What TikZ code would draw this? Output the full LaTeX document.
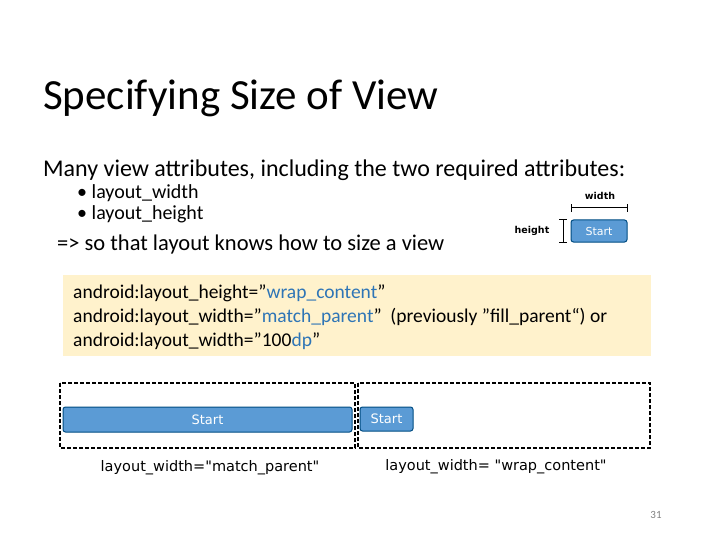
\documentclass[tikz,border=0pt]{standalone}
\usepackage{fontspec}
\setmainfont{Carlito}[Ligatures={ResetAll}]
\newfontfamily\dvs{DejaVu Sans}[Ligatures={ResetAll}]
\newcommand{\q}{"}
\begin{document}
\begin{tikzpicture}[x=1pt,y=-1pt,
  btn/.style={draw=blue!30!black!70!cyan,line width=1pt,fill=btnblue,rounded corners=2.5pt,text=white,inner sep=0pt},
  dbox/.style={draw=black,dash pattern=on 4pt off 2pt,line width=1.5pt},
  txt/.style={anchor=base west,inner sep=0pt}]
\definecolor{btnblue}{HTML}{5B9BD5}
\definecolor{codeblue}{HTML}{2E75B6}
\definecolor{note}{HTML}{FFF2CC}
\useasboundingbox (0,0) rectangle (720,540);
\node[txt,font=\fontsize{43}{46}\selectfont] (title) at (43,110) {Specifying Size of View};
\node[txt,font=\fontsize{24}{26}\selectfont] (l1) at (43,177) {Many view attributes, including the two required attributes:};
\node[txt,font=\fontsize{20}{20}\selectfont] (b1) at (77,199) {• layout\_width};
\node[txt,font=\fontsize{20}{20}\selectfont] (b2) at (77,220) {• layout\_height};
\node[txt,font=\fontsize{22.5}{24}\selectfont] (l2) at (57,250) {=> so that layout knows how to size a view};
% small button
\node[btn,minimum width=56pt,minimum height=22pt,font=\dvs\fontsize{11}{12}\selectfont] (sb) at (599,231) {Start};
\node[font=\dvs\bfseries\fontsize{9.5}{12}\selectfont,inner sep=0pt] (wl) at (600,196) {width};
\node[font=\dvs\bfseries\fontsize{9.5}{12}\selectfont,inner sep=0pt] (hl) at (532,231) {height};
\coordinate (w1) at (571,208); \coordinate (w2) at (627,208);
\draw[line width=1pt] (w1) -- (w2);
\draw[line width=1pt] ([yshift=-4]w1) -- ([yshift=4]w1);
\draw[line width=1pt] ([yshift=-4]w2) -- ([yshift=4]w2);
\coordinate (h1) at (563,220); \coordinate (h2) at (563,242);
\draw[line width=1pt] (h1) -- (h2);
\draw[line width=1pt] ([xshift=-4]h1) -- ([xshift=4]h1);
\draw[line width=1pt] ([xshift=-4]h2) -- ([xshift=4]h2);
% note box
\fill[note] (63,275) rectangle (651,356);
\node[txt,font=\fontsize{19.5}{20}\selectfont] (c1) at (73,298) {android:layout\_height=\q\textcolor{codeblue}{wrap\_content}\q};
\node[txt,font=\fontsize{19.5}{20}\selectfont] (c2) at (73,322) {android:layout\_width=\q\textcolor{codeblue}{match\_parent}\q\ \ (previously \q fill\_parent“) or};
\node[txt,font=\fontsize{19.5}{20}\selectfont] (c3) at (73,346) {android:layout\_width=\q 100\textcolor{codeblue}{dp}\q};
% dashed boxes
\draw[dbox] (60,383) rectangle (355,448);
\draw[dbox] (358,383) rectangle (650,448);
\node[btn,minimum width=289pt,minimum height=25pt,font=\dvs\fontsize{13}{16}\selectfont] (bb1) at (207.5,419.5) {Start};
\node[btn,minimum width=53pt,minimum height=24pt,font=\dvs\fontsize{13}{16}\selectfont] (bb2) at (386.5,419) {Start};
\node[font=\dvs\fontsize{14.5}{16}\selectfont,inner sep=0pt] (m1) at (210,468) {layout\_width=\q match\_parent\q};
\node[font=\dvs\fontsize{14.5}{16}\selectfont,inner sep=0pt] (m2) at (496,467) {layout\_width= \q wrap\_content\q};
\node[font=\fontsize{11}{12}\selectfont,text=gray,inner sep=0pt] (pg) at (656,515) {31};
\end{tikzpicture}
\end{document}
